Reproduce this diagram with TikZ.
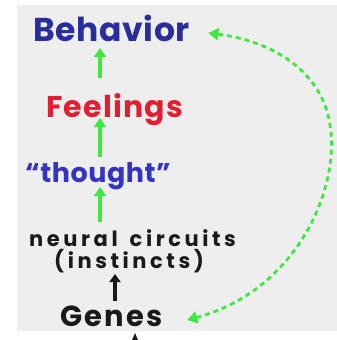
\documentclass[tikz,border=0pt]{standalone}
\usepackage{fontspec}
\setmainfont{Poppins}
\usetikzlibrary{arrows.meta}
\definecolor{paper}{HTML}{EEEEEE}
\definecolor{behblue}{HTML}{2A2E9C}
\definecolor{feelred}{HTML}{E31E32}
\definecolor{thoughtblue}{HTML}{3434C4}
\definecolor{ink}{HTML}{1A1A1A}
\definecolor{arrowgreen}{HTML}{3FE83F}
\tikzset{
  label/.style={anchor=base west, inner sep=0pt},
  uparrow/.style={arrowgreen, line width=3.4pt,
    -{Triangle[width=12pt,length=9pt]}},
  blackarrow/.style={ink, line width=3.2pt,
    -{Triangle[width=11pt,length=8pt]}},
  loop/.style={arrowgreen, line width=2.8pt, dash pattern=on 5pt off 4pt,
    {Triangle[width=12pt,length=10pt]}-{Triangle[width=12pt,length=10pt]}}
}
\newcommand{\hand}[2]{\fontsize{#1}{#1}\selectfont\bfseries\addfontfeature{LetterSpace=#2}}
\begin{document}
\begin{tikzpicture}[x=1pt,y=-1pt]
  % page and paper
  \useasboundingbox (0,0) rectangle (337,340);
  \fill[white] (0,0) rectangle (337,340);
  \fill[paper] (17,5) rectangle (337,331);

  % the chain of levels
  \node[label, font=\hand{33}{2}, text=behblue] (behavior) at (33,41) {Behavior};
  \node[label, font=\hand{30}{4}, text=feelred] (feelings) at (46,117) {Feelings};
  \node[label, font=\hand{27}{2}, text=thoughtblue] (thought) at (25,182) {``thought''};
  \node[label, font=\hand{21}{17}, text=ink] (neural) at (29,246) {neural\hspace{4pt} circuits};
  \node[label, font=\hand{21}{17}, text=ink] (instincts) at (54,268) {(instincts)};
  \node[label, font=\hand{29}{8}, text=ink] (genes) at (60,326) {Genes};

  % column of the upward arrows
  \coordinate (col) at (100,0);
  \coordinate (colb) at (115,0);
  \draw[uparrow] ([yshift=39pt]feelings.base -| col) -- ([yshift=-7pt]behavior.base -| col);
  \draw[uparrow] ([yshift=25pt]thought.base -| col) -- ([yshift=-1pt]feelings.base -| col);
  \draw[uparrow] ([yshift=24pt]neural.base -| col) -- ([yshift=-5pt]thought.base -| col);
  \draw[blackarrow] ([yshift=25pt]genes.base -| colb) -- ([yshift=-6pt]instincts.base -| colb);

  % feedback loop from behaviour back to the genes
  \coordinate (loopA) at ([xshift=18pt,yshift=8pt]behavior.base east);
  \coordinate (loopB) at ([xshift=24pt,yshift=6pt]genes.base east);
  \draw[loop] (loopB) .. controls (300,290) and (345,180) .. (328,115)
                      .. controls (315,65) and (265,40) .. (loopA);

  % small mark below the paper
  \coordinate (tick) at (135,333);
  \fill[ink] (tick) -- ++(-3,7) -- ++(6,0) -- cycle;
\end{tikzpicture}
\end{document}
